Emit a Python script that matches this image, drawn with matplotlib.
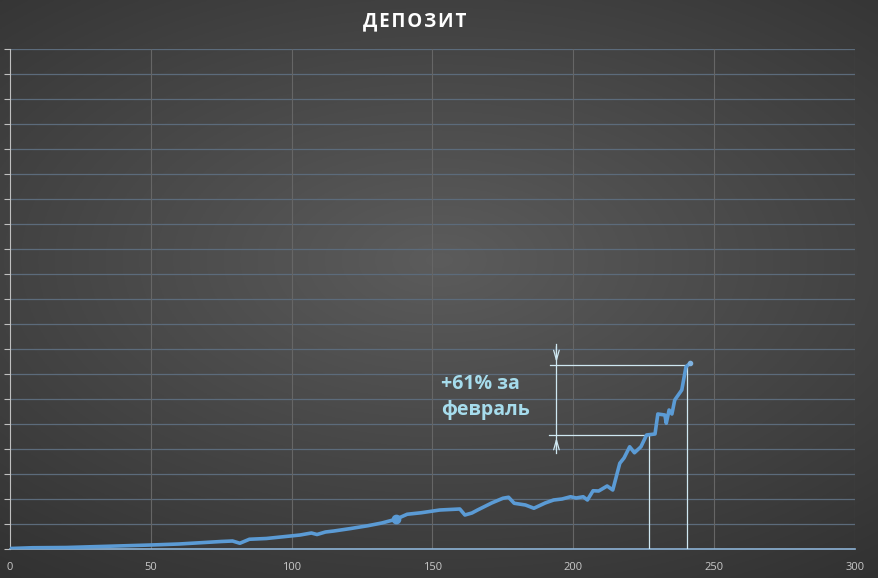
import numpy as np
import matplotlib
matplotlib.use('Agg')
import matplotlib.pyplot as plt

plt.rcParams['font.family'] = ['Open Sans', 'DejaVu Sans']

# deposit curve (1 unit = one horizontal gridline)
days = [0, 8, 20, 38, 50, 60, 67.5, 75, 79, 81.6, 85, 91, 97, 103, 107, 109, 112, 115,
        121, 127, 132, 137, 141, 146, 152.6, 159.7, 161.5, 164, 166, 171, 175, 177, 179,
        183, 186, 190, 193, 196, 199, 201, 203.5, 205, 207, 209, 212, 214, 216.5, 218,
        220, 221.7, 224, 226, 229, 230, 232.5, 233, 234, 235, 236, 238.5, 240, 241.5]
deposit = [0.02, 0.05, 0.06, 0.12, 0.16, 0.2, 0.25, 0.3, 0.32, 0.23, 0.39, 0.42, 0.49, 0.56,
           0.64, 0.58, 0.68, 0.72, 0.82, 0.93, 1.04, 1.19, 1.39, 1.45, 1.56, 1.6, 1.36, 1.44,
           1.56, 1.84, 2.03, 2.07, 1.83, 1.76, 1.63, 1.84, 1.96, 2.0, 2.09, 2.04, 2.09, 1.96,
           2.33, 2.32, 2.52, 2.36, 3.43, 3.64, 4.09, 3.85, 4.09, 4.56, 4.6, 5.4, 5.36, 5.03,
           5.56, 5.4, 5.96, 6.36, 7.29, 7.43]

marker_day, marker_val = 137, 1.19

# february marks
feb_start_day, feb_start_val = 227, 4.56
feb_end_day, feb_end_val = 240.5, 7.36
dim_x = 194
label = '+61% за\nфевраль'

xticks = [0, 50, 100, 150, 200, 250, 300]

fig = plt.figure(figsize=(8.79, 5.78), dpi=100)

# radial dark gradient background
bg = fig.add_axes([0, 0, 1, 1], zorder=-10)
yy, xx = np.mgrid[-1:1:300j, -1:1:450j]
r = np.sqrt((xx * 0.85) ** 2 + (yy + 0.1) ** 2)
shade = np.clip(0.36 - 0.12 * r, 0.17, 0.4)
bg.imshow(np.dstack([shade] * 3), aspect='auto', extent=[0, 1, 0, 1])
bg.axis('off')

ax = fig.add_axes([10 / 879, 29 / 578, 845 / 879, 500 / 578])
ax.set_facecolor('none')
ax.set_xlim(0, 300)
ax.set_ylim(0, 20)
ax.set_xticks(xticks)
ax.set_yticks(np.arange(0, 21, 1))
ax.set_yticklabels([])
ax.tick_params(axis='x', length=0, colors='#c8c8c8', labelsize=8, pad=9)
ax.tick_params(axis='y', direction='out', length=4, color='#bfbfbf', width=0.8)
for v in np.arange(1, 21, 1):
    ax.axhline(v, color='#5c6b7b', lw=0.9, zorder=1)
for v in xticks[1:]:
    ax.axvline(v, color='#666666', lw=0.8, zorder=1)
for s in ['top', 'right']:
    ax.spines[s].set_visible(False)
ax.spines['left'].set_color('#bfbfbf')
ax.spines['bottom'].set_color('#8db3d6')
ax.spines['bottom'].set_linewidth(1.2)

ax.plot(days, deposit, color='#5b9bd5', lw=2.6, zorder=4, solid_joinstyle='round')
ax.plot(marker_day, marker_val, 'o', color='#5b9bd5', ms=6, zorder=5)
ax.plot(days[-1], deposit[-1], 'o', color='#7fb2e0', ms=3, zorder=5)

lc = '#cfe8f2'
ax.plot([dim_x - 2.3, feb_end_day], [feb_end_val, feb_end_val], color=lc, lw=0.9, zorder=3)
ax.plot([dim_x - 2.6, feb_start_day], [feb_start_val, feb_start_val], color=lc, lw=0.9, zorder=3)
ax.plot([feb_start_day, feb_start_day], [0, feb_start_val], color=lc, lw=0.9, zorder=3)
ax.plot([feb_end_day, feb_end_day], [0, feb_end_val], color=lc, lw=0.9, zorder=3)
ax.plot([dim_x, dim_x], [feb_end_val + 0.85, feb_start_val - 0.72], color=lc, lw=0.9, zorder=3)
arrow = dict(arrowstyle='->,head_length=0.7,head_width=0.2', color=lc, lw=0.9)
ax.annotate('', xy=(dim_x, feb_end_val), xytext=(dim_x, feb_end_val + 0.85), arrowprops=arrow)
ax.annotate('', xy=(dim_x, feb_start_val), xytext=(dim_x, feb_start_val - 0.72), arrowprops=arrow)

ax.text(153, 6.08, label, color='#a6dcec', fontsize=14, fontweight='bold',
        va='center', ha='left', linespacing=1.45)

fig.text(415 / 879, 1 - 21 / 578, '\u200a'.join('ДЕПОЗИТ'), color='white', fontsize=13.5,
         fontweight='bold', ha='center', va='center')

fig.savefig('out.png', dpi=100)
